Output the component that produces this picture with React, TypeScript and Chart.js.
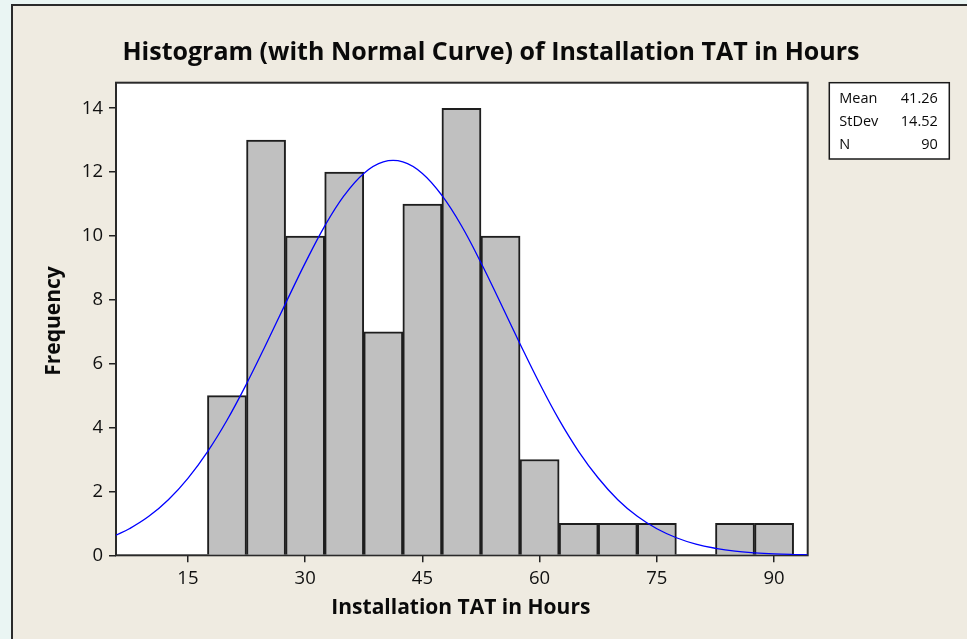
import React, { useEffect, useRef } from "react";
import { Chart, registerables } from "chart.js";

Chart.register(...registerables);

// Histogram bins (centers, width 5) and counts
const binCenters = [20, 25, 30, 35, 40, 45, 50, 55, 60, 65, 70, 75, 80, 85, 90];
const frequencies = [5, 13, 10, 12, 7, 11, 14, 10, 3, 1, 1, 1, 0, 1, 1];

// Fitted normal curve
const curveX = [5.8, 7.5, 10, 12.5, 15, 17.5, 20, 22.5, 25, 27.5, 30, 32.5, 35, 37.5, 40, 42.5, 45, 47.5, 50, 52.5, 55, 57.5, 60, 62.5, 65, 67.5, 70, 72.5, 75, 77.5, 80, 82.5, 85, 87.5, 90, 92.5, 94.3];
const curveY = [0.63, 0.83, 1.22, 1.74, 2.41, 3.24, 4.23, 5.37, 6.61, 7.89, 9.15, 10.31, 11.27, 11.96, 12.32, 12.32, 11.96, 11.27, 10.32, 9.16, 7.9, 6.62, 5.38, 4.24, 3.25, 2.42, 1.74, 1.22, 0.83, 0.55, 0.35, 0.22, 0.13, 0.078, 0.044, 0.024, 0.016];

// Axis ticks and ranges
const xTicks = [15, 30, 45, 60, 75, 90];
const yTicks = [0, 2, 4, 6, 8, 10, 12, 14];
const xRange = [5.8, 94.3];
const yRange = [0, 14.8];

// Texts
const chartTitle = "Histogram (with Normal Curve) of Installation TAT in Hours";
const xTitle = "Installation TAT in Hours";
const yTitle = "Frequency";
const statNames = ["Mean", "StDev", "N"];
const statValues = ["41.26", "14.52", "90"];

const REG = '"Open Sans", "Noto Sans", sans-serif';

export default function App() {
  const ref = useRef<HTMLCanvasElement>(null);

  useEffect(() => {
    const canvas = ref.current;
    if (!canvas) return;

    const decor = {
      id: "decor",
      beforeDraw(chart: any) {
        const { ctx, chartArea: a } = chart;
        ctx.save();
        ctx.fillStyle = "#ffffff";
        ctx.fillRect(a.left, a.top, a.right - a.left, a.bottom - a.top);
        ctx.restore();
      },
      beforeDatasetsDraw(chart: any) {
        const { ctx, chartArea: a } = chart;
        ctx.save();
        ctx.strokeStyle = "#2a2a2a";
        ctx.lineWidth = 2;
        ctx.strokeRect(a.left, a.top, a.right - a.left, a.bottom - a.top);
        ctx.restore();
      },
      afterDraw(chart: any) {
        const { ctx, chartArea: a } = chart;
        ctx.save();
        ctx.fillStyle = "#0a0a0a";
        // main title
        ctx.font = `bold 25px ${REG}`;
        ctx.textAlign = "center";
        ctx.textBaseline = "alphabetic";
        ctx.fillText(chartTitle, 491, 59.5);
        // x title
        ctx.font = `bold 21px ${REG}`;
        ctx.fillText(xTitle, (a.left + a.right) / 2 - 1, 613.5);
        // y title
        ctx.save();
        ctx.translate(60, (a.top + a.bottom) / 2 + 2);
        ctx.rotate(-Math.PI / 2);
        ctx.fillText(yTitle, 0, 0);
        ctx.restore();
        // stats box
        const bx = a.right + 21.6;
        const by = a.top;
        const bw = 120;
        const bh = 76.3;
        ctx.fillStyle = "#ffffff";
        ctx.fillRect(bx, by, bw, bh);
        ctx.strokeStyle = "#1a1a1a";
        ctx.lineWidth = 1.5;
        ctx.strokeRect(bx, by, bw, bh);
        ctx.fillStyle = "#0a0a0a";
        ctx.font = `14.5px ${REG}`;
        statNames.forEach((name, i) => {
          const yb = by + 20.6 + i * 23;
          ctx.textAlign = "left";
          ctx.fillText(name, bx + 10, yb);
          ctx.textAlign = "right";
          ctx.fillText(statValues[i], bx + 108.5, yb);
        });
        ctx.restore();
      },
    };

    const chart = new Chart(canvas, {
      type: "bar",
      data: {
        datasets: [
          {
            type: "line",
            data: curveX.map((x, i) => ({ x, y: curveY[i] })),
            borderColor: "#0000ff",
            borderWidth: 1.3,
            pointRadius: 0,
            tension: 0.4,
            fill: false,
            order: 0,
          } as any,
          {
            type: "bar",
            data: binCenters.map((x, i) => ({ x, y: frequencies[i] === 0 ? null : frequencies[i] })),
            backgroundColor: "#c0c0c0",
            borderColor: "#1e1e1e",
            borderWidth: 2,
            borderSkipped: "start",
            barPercentage: 1,
            categoryPercentage: 1,
            order: 1,
          } as any,
        ],
      },
      options: {
        animation: false,
        responsive: false,
        maintainAspectRatio: false,
        layout: { padding: { left: 0, top: 82.7, right: 159.3, bottom: 0 } },
        plugins: {
          legend: { display: false },
          title: { display: false },
          tooltip: { enabled: false },
        },
        scales: {
          x: {
            type: "linear",
            min: xRange[0],
            max: xRange[1],
            offset: false,
            afterBuildTicks: (axis: any) => {
              axis.ticks = xTicks.map((v) => ({ value: v }));
            },
            afterFit: (axis: any) => {
              axis.height = 639 - 555.3;
            },
            grid: {
              display: true,
              offset: false,
              drawOnChartArea: false,
              drawTicks: true,
              tickLength: 7,
              color: "#222222",
              lineWidth: 1.5,
            },
            border: { display: false },
            ticks: {
              autoSkip: false,
              maxRotation: 0,
              padding: 5,
              color: "#111111",
              font: { family: REG, size: 18.5 },
              callback: (v: any) => String(v),
            },
          },
          y: {
            type: "linear",
            min: yRange[0],
            max: yRange[1],
            afterBuildTicks: (axis: any) => {
              axis.ticks = yTicks.map((v) => ({ value: v }));
            },
            afterFit: (axis: any) => {
              axis.width = 116;
            },
            grid: {
              display: true,
              drawOnChartArea: false,
              drawTicks: true,
              tickLength: 7,
              color: "#222222",
              lineWidth: 1.5,
            },
            border: { display: false },
            ticks: {
              autoSkip: false,
              padding: 6,
              color: "#111111",
              font: { family: REG, size: 18.5 },
              callback: (v: any) => String(v),
            },
          },
        },
      },
      plugins: [decor],
    } as any);

    return () => chart.destroy();
  }, []);

  return (
    <div
      style={{
        position: "fixed",
        left: 0,
        top: 0,
        width: 967,
        height: 639,
        overflow: "hidden",
        background: "#eaf5f3",
      }}
    >
      <div
        style={{
          position: "absolute",
          left: 11,
          top: 4,
          width: 980,
          height: 660,
          border: "2px solid #2a2a2a",
          background: "#efebe1",
        }}
      />
      <canvas
        ref={ref}
        width={967}
        height={639}
        style={{ position: "absolute", left: 0, top: 0, width: 967, height: 639 }}
      />
    </div>
  );
}
